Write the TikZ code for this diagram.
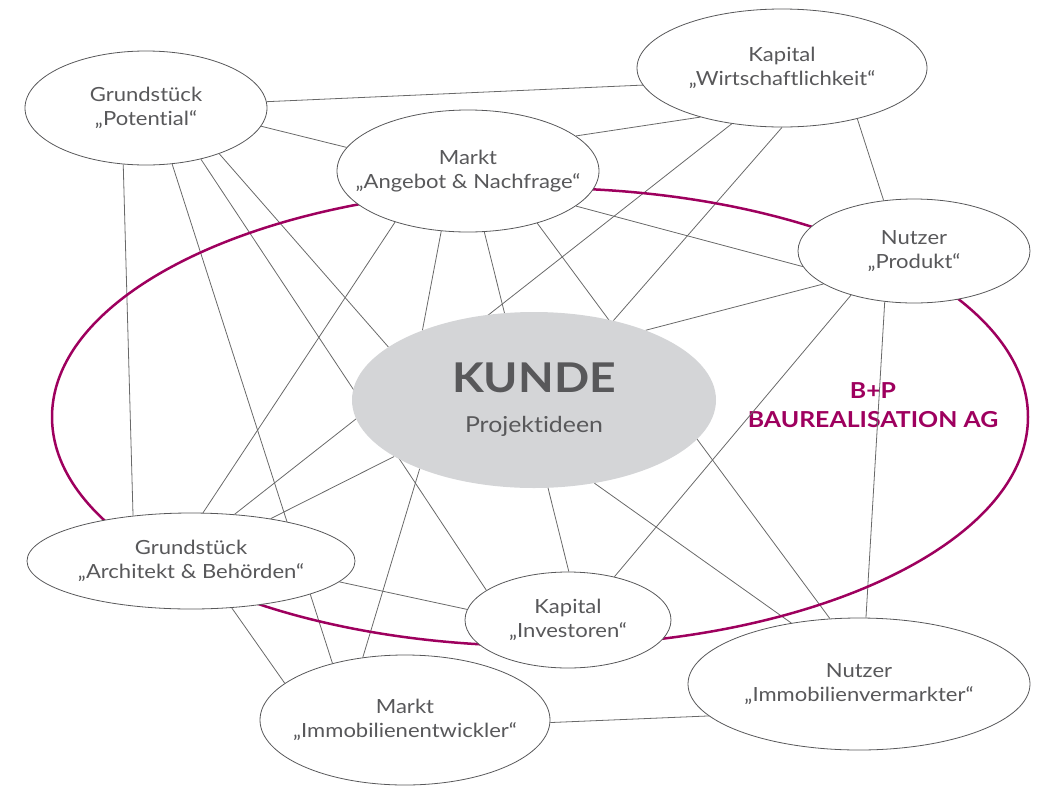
\documentclass[tikz,border=0pt]{standalone}
\usepackage{fontspec}
\setmainfont{Lato}[Ligatures={TeX,NoCommon},FakeStretch=1.13]
\usepackage{tikz}
\usetikzlibrary{shapes.geometric,backgrounds}

\definecolor{bpmagenta}{RGB}{158,0,94}
\definecolor{textgrau}{RGB}{88,88,90}
\definecolor{liniegrau}{RGB}{105,105,105}
\definecolor{kundegrau}{RGB}{212,213,215}

\begin{document}
\begin{tikzpicture}[x=1pt,y=-1pt,
    feld/.style={ellipse,draw=textgrau,line width=0.8pt,fill=white,inner xsep=-60pt,inner ysep=0pt,
      align=center,text=textgrau,font=\fontsize{19.5}{24}\selectfont},
    kunde/.style={ellipse,fill=kundegrau,inner xsep=-40pt,inner ysep=0pt,align=center,text=textgrau,
      font=\fontsize{22}{40}\selectfont},
    bplabel/.style={align=center,text=bpmagenta,font=\fontsize{22}{29}\selectfont\bfseries},
    verbindung/.style={draw=liniegrau,line width=0.8pt}]

  \useasboundingbox (0,0) rectangle (1055,785);

  \node[feld,minimum width=242pt,minimum height=114pt] (gp) at (146,108) {Grundstück\\„Potential“};
  \node[feld,minimum width=262pt,minimum height=122pt] (ma) at (468,171) {Markt\\„Angebot \& Nachfrage“};
  \node[feld,minimum width=290pt,minimum height=118pt] (kw) at (782,68) {Kapital\\„Wirtschaftlichkeit“};
  \node[feld,minimum width=232pt,minimum height=104pt] (np) at (914,251) {Nutzer\\„Produkt“};
  \node[kunde,minimum width=364pt,minimum height=176pt] (ku) at (534,400)
    {{\fontsize{41}{41}\selectfont\bfseries KUNDE}\\Projektideen};
  \node[feld,minimum width=328pt,minimum height=96pt] (ga) at (191,561) {Grundstück\\„Architekt \& Behörden“};
  \node[feld,minimum width=206pt,minimum height=96pt] (ki) at (568,620) {Kapital\\„Investoren“};
  \node[feld,minimum width=290pt,minimum height=130pt] (mi) at (405,720) {Markt\\„Immobilienentwickler“};
  \node[feld,minimum width=342pt,minimum height=132pt] (ni) at (859,684) {Nutzer\\„Immobilienvermarkter“};

  \begin{scope}[on background layer]
    \node[bplabel] (bp) at (873,405) {B+P\\BAUREALISATION AG};
    \path[verbindung]
      (gp.3) edge (kw.187)
      (gp.351) edge (ma.169)
      (gp.248) edge (ga.142)
      (gp.295) edge (mi.142)
      (gp.317) edge (ki.160)
      (gp.328) edge (ku.160)
      (ma.18) edge (kw.211)
      (ma.342) edge (np.188)
      (ma.323) edge (ni.114)
      (ma.285) edge (ki.89)
      (ma.246) edge (ku.148)
      (ma.215) edge (ga.76)
      (kw.228) edge (ga.47)
      (kw.270) edge (ku.45)
      (kw.326) edge (np.121)
      (np.200) edge (ku.32)
      (np.215) edge (ki.43)
      (np.240) edge (ni.84)
      (ga.28) edge (ku.202)
      (ga.352) edge (ki.174)
      (ga.311) edge (mi.163)
      (mi.124) edge (ku.211)
      (mi.359) edge (ni.192)
      (ku.306) edge (ni.138)
    ;
    \draw[bpmagenta,line width=2.5pt] (540,417) ellipse [x radius=488, y radius=229];
  \end{scope}
\end{tikzpicture}
\end{document}
